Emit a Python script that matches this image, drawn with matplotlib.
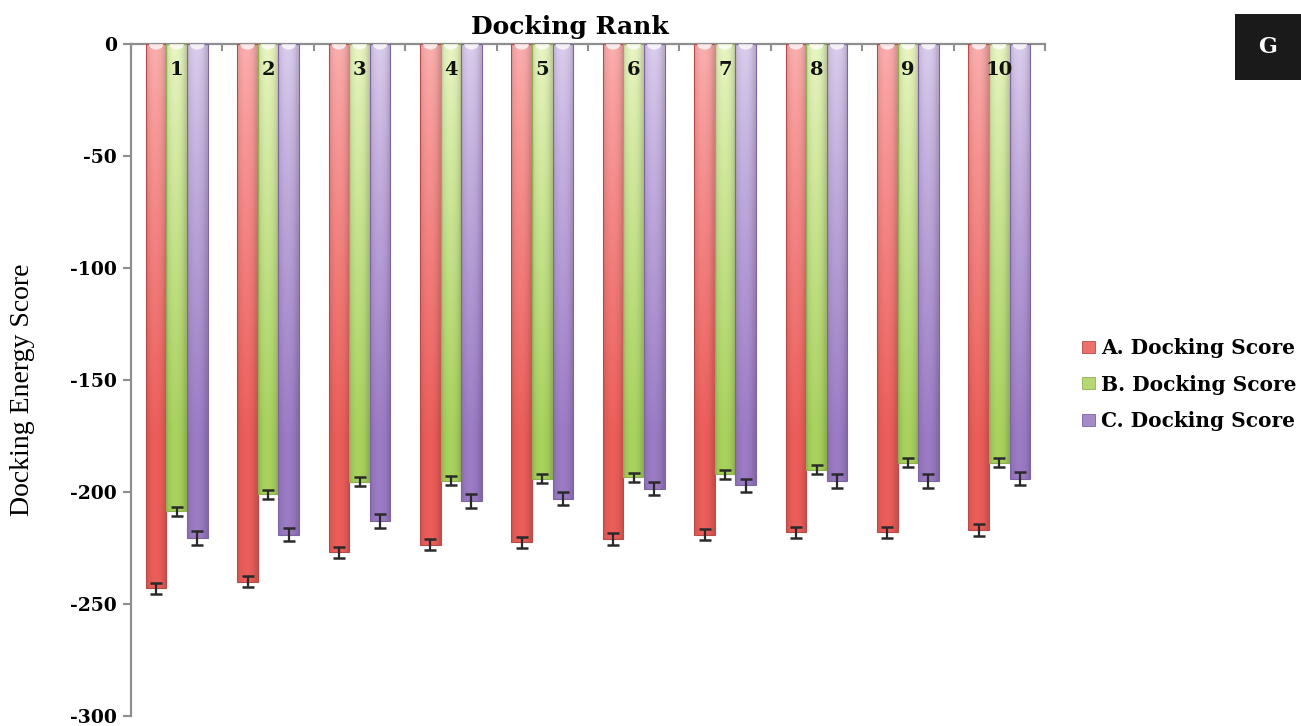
import numpy as np
import matplotlib
matplotlib.use("Agg")
import matplotlib.pyplot as plt
from matplotlib.patches import Rectangle, Ellipse, Patch

# Docking energy scores for the top 10 ranked poses of three complexes
ranks = ["1", "2", "3", "4", "5", "6", "7", "8", "9", "10"]
score_a = [-243, -240, -227, -223.5, -222.5, -221, -219, -218, -218, -217]
score_b = [-208.5, -201, -195.5, -195, -194, -193.5, -192, -190, -187, -187]
score_c = [-220.5, -219, -213, -204, -203, -198.5, -197, -195, -195, -194]
err_a = [2.5, 2.5, 2.5, 2.5, 2.5, 2.5, 2.5, 2.5, 2.5, 2.5]
err_b = [2.0, 2.0, 2.0, 2.0, 2.0, 2.0, 2.0, 2.0, 2.0, 2.0]
err_c = [3.0, 3.0, 3.0, 3.0, 3.0, 3.0, 3.0, 3.0, 3.0, 3.0]
series_names = ["A. Docking Score", "B. Docking Score", "C. Docking Score"]
y_ticks = [0, -50, -100, -150, -200, -250, -300]

# light (top) and deep (bottom) shades for each series
shades = [
    ((247, 172, 172), (231, 92, 88)),
    ((229, 241, 192), (165, 206, 92)),
    ((215, 202, 233), (152, 121, 193)),
]
edge_cols = ["#b84a47", "#8fb04e", "#7d64a3"]
mid_cols = ["#ec706c", "#b6d874", "#a58ac8"]

BOLD = dict(family="DejaVu Serif", fontweight="bold")

fig = plt.figure(figsize=(13.01, 7.26), dpi=100)
W, H = 1301, 726
ax = fig.add_axes([131 / W, 1 - 716 / H, (1045 - 131) / W, (716 - 44) / H])

bw = 0.225
offsets = [-bw, 0.0, bw]
x = np.arange(len(ranks))


def shaded_bar(ax, xc, val, light, dark, edge):
    """Cylinder-like bar hanging from zero down to val."""
    nrow, ncol = 200, 40
    depth = np.linspace(0, abs(val), nrow)[:, None]
    t = np.clip(depth / 175.0, 0, 1) ** 0.85
    u = np.linspace(0, 1, ncol)[None, :]
    light = np.array(light) / 255.0
    dark = np.array(dark) / 255.0
    base = light[None, None, :] + (dark - light)[None, None, :] * t[..., None]
    # horizontal rounding: darker at the edges, brighter left of centre
    curve = 0.87 + 0.15 * np.sin(np.pi * np.clip(u * 1.1, 0, 1)) ** 0.6
    img = np.clip(base * curve[..., None], 0, 1)
    x0, x1 = xc - bw / 2, xc + bw / 2
    ax.imshow(img, extent=(x0, x1, val, 0), origin="upper", aspect="auto",
              interpolation="bilinear", zorder=2)
    ax.add_patch(Rectangle((x0, val), bw, -val, facecolor="none",
                           edgecolor=edge, linewidth=0.8, zorder=3))
    ax.add_patch(Ellipse((xc, 0), bw * 0.7, 5.0, facecolor="white",
                         edgecolor="none", alpha=0.75, zorder=3))


all_scores = [score_a, score_b, score_c]
all_errs = [err_a, err_b, err_c]
for s, (vals, errs) in enumerate(zip(all_scores, all_errs)):
    light, dark = shades[s]
    for i, v in enumerate(vals):
        shaded_bar(ax, x[i] + offsets[s], v, light, dark, edge_cols[s])
    ax.errorbar(x + offsets[s], vals, yerr=errs, fmt="none", ecolor="#2a2a2a",
                elinewidth=1.6, capsize=4, capthick=1.8, zorder=4)

# rank numbers written inside the middle bar of each group
for i, r in enumerate(ranks):
    ax.text(x[i], -11.8, r, ha="center", va="center", fontsize=14,
            color="#111111", zorder=5, **BOLD)

ax.set_xlim(-0.5, len(ranks) - 0.5)
ax.set_ylim(-300, 0)
ax.set_yticks(y_ticks)
ax.set_yticklabels([str(v) for v in y_ticks], fontsize=13.5, **BOLD)
ax.xaxis.tick_top()
ax.set_xticks(np.arange(-0.5, len(ranks), 1.0))
ax.set_xticklabels([])
ax.tick_params(axis="x", direction="in", length=5, width=1.5, colors="#8f8f8f")
ax.tick_params(axis="y", direction="out", length=6, width=1.5, colors="#8f8f8f",
               labelcolor="black", pad=4)
for side in ("bottom", "right"):
    ax.spines[side].set_visible(False)
for side in ("top", "left"):
    ax.spines[side].set_color("#8f8f8f")
    ax.spines[side].set_linewidth(1.6)

fig.text(570 / W, 1 - 27 / H, "Docking Rank", ha="center", va="center",
         fontsize=18, **BOLD)
fig.text(23 / W, 1 - 390 / H, "Docking Energy Score", ha="center", va="center",
         rotation=90, fontsize=20, family="Liberation Serif")

handles = [Patch(facecolor=mid_cols[k], edgecolor=edge_cols[k], linewidth=0.6)
           for k in range(3)]
fig.legend(handles, series_names, loc="upper left",
           bbox_to_anchor=(1082 / W, 1 - 338 / H), frameon=False,
           prop=dict(family="DejaVu Serif", weight="bold", size=14.5),
           handlelength=0.65, handleheight=0.55, handletextpad=0.3,
           labelspacing=0.82, borderpad=0, borderaxespad=0)

# panel letter in a dark box
fig.patches.append(Rectangle((1235 / W, 1 - 80 / H), 66 / W, 66 / H,
                             transform=fig.transFigure, facecolor="#1a1a1a",
                             edgecolor="none"))
fig.text(1268 / W, 1 - 47 / H, "G", ha="center", va="center", color="white",
         fontsize=16, **BOLD)

fig.savefig("out.png", dpi=100)
